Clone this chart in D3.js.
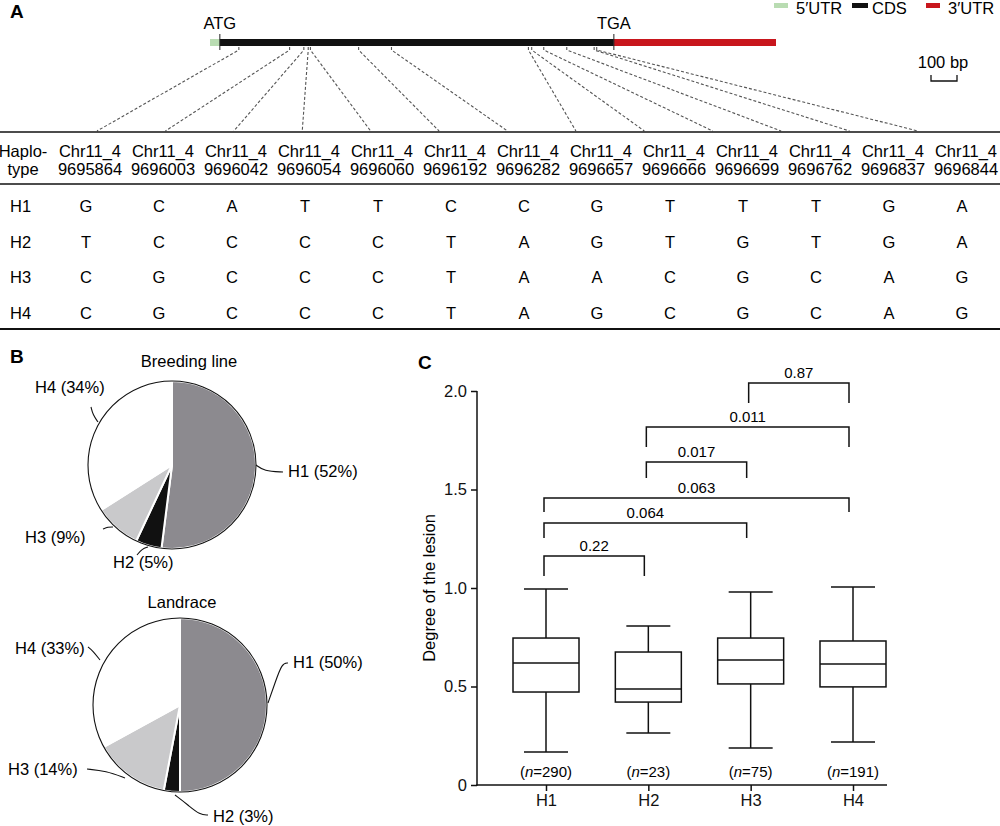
<!DOCTYPE html>
<html><head><meta charset="utf-8">
<script src="https://cdn.jsdelivr.net/npm/d3@7"></script>
<style>
body{margin:0;background:#fff}
svg{display:block;font-family:"Liberation Sans",Arial,Helvetica,sans-serif}
</style>
</head><body>
<svg id="fig" width="1000" height="826"></svg>
<script>
// ---------------- DATA ----------------
const snpIds = ["9695864","9696003","9696042","9696054","9696060","9696192","9696282","9696657","9696666","9696699","9696762","9696837","9696844"];
const snpPositions = [9695864,9696003,9696042,9696054,9696060,9696192,9696282,9696657,9696666,9696699,9696762,9696837,9696844];
const haplotypes = ["H1","H2","H3","H4"];
const allelesH1 = ["G","C","A","T","T","C","C","G","T","T","T","G","A"];
const allelesH2 = ["T","C","C","C","C","T","A","G","T","G","T","G","A"];
const allelesH3 = ["C","G","C","C","C","T","A","A","C","G","C","A","G"];
const allelesH4 = ["C","G","C","C","C","T","A","G","C","G","C","A","G"];
const geneFeatures = ["5\u2032UTR","CDS","3\u2032UTR"];
const featureStart = [9695785, 9695812, 9696891];
const featureEnd   = [9695812, 9696891, 9697335];
const breedingPct = [52, 5, 9, 34];
const landracePct = [50, 3, 14, 33];
const boxMin    = [0.167, 0.264, 0.188, 0.218];
const boxQ1     = [0.472, 0.421, 0.513, 0.498];
const boxMedian = [0.619, 0.487, 0.635, 0.614];
const boxQ3     = [0.746, 0.675, 0.746, 0.731];
const boxMax    = [0.995, 0.807, 0.980, 1.005];
const sampleN   = [290, 23, 75, 191];
const compFrom = ["H1","H1","H1","H2","H2","H3"];
const compTo   = ["H2","H3","H4","H3","H4","H4"];
const compP    = ["0.22","0.064","0.063","0.017","0.011","0.87"];
const yTicks = [0, 0.5, 1, 1.5, 2];

// ---------------- LAYOUT ----------------
const svg = d3.select("#fig");
const FS = 16.5;
const alleles = [allelesH1, allelesH2, allelesH3, allelesH4];

// Panel letters
[["A",10,18],["B",10,363],["C",418,369]].forEach(([t,x,y])=>{
  svg.append("text").attr("x",x).attr("y",y).attr("font-size",19).attr("font-weight","bold").text(t);
});

// ---- Panel A: gene model ----
const gx = d3.scaleLinear().domain([featureStart[0], featureEnd[2]]).range([210, 776]);
const featColors = ["#b9dcb2", "#111111", "#c8161d"];
geneFeatures.forEach((f,i)=>{
  svg.append("rect").attr("x", gx(featureStart[i])).attr("y", 39)
    .attr("width", gx(featureEnd[i]) - gx(featureStart[i])).attr("height", 7)
    .attr("fill", featColors[i]);
});
// ATG / TGA markers
[[featureStart[1],"ATG"],[featureStart[2],"TGA"]].forEach(([p,t])=>{
  const x = gx(p);
  svg.append("line").attr("x1",x).attr("x2",x).attr("y1",34).attr("y2",50).attr("stroke","#222").attr("stroke-width",1);
  svg.append("text").attr("x",x).attr("y",29).attr("text-anchor","middle").attr("font-size",FS).text(t);
});
// Legend
const legX = [774, 852, 926];
geneFeatures.forEach((f,i)=>{
  svg.append("rect").attr("x",legX[i]).attr("y",3).attr("width", i===1?16:14).attr("height",5).attr("fill",featColors[i]);
  svg.append("text").attr("x",legX[i]+(i===1?20:22)).attr("y",14).attr("font-size",16.5).text(f);
});
// scale bar
svg.append("path").attr("d","M931,75V81H957V75").attr("fill","none").attr("stroke","#111").attr("stroke-width",1.3);
svg.append("text").attr("x",943).attr("y",68).attr("text-anchor","middle").attr("font-size",FS).text("100 bp");

// connecting dashed lines
const endX = d3.scaleLinear().domain([0, snpPositions.length-1]).range([97, 918]);
snpPositions.forEach((p,i)=>{
  const xb = gx(p);
  svg.append("path").attr("d",`M${xb},47L${xb},50L${endX(i)},131`)
    .attr("fill","none").attr("stroke","#555").attr("stroke-width",1.1).attr("stroke-dasharray","3,2");
});

// table
const colX = d3.scaleLinear().domain([0, snpIds.length-1]).range([90, 966]);
[[132,1.5],[184,1.5],[329,2]].forEach(([y,w])=>{
  svg.append("line").attr("x1",0).attr("x2",1000).attr("y1",y).attr("y2",y).attr("stroke","#111").attr("stroke-width",w);
});
svg.append("text").attr("x",23).attr("y",157).attr("text-anchor","middle").attr("font-size",FS).text("Haplo-");
svg.append("text").attr("x",23).attr("y",175).attr("text-anchor","middle").attr("font-size",FS).text("type");
snpIds.forEach((id,i)=>{
  svg.append("text").attr("x",colX(i)).attr("y",157).attr("text-anchor","middle").attr("font-size",FS).text("Chr11_4");
  svg.append("text").attr("x",colX(i)).attr("y",175).attr("text-anchor","middle").attr("font-size",FS).text(id);
});
const rowY = d3.scalePoint().domain(haplotypes).range([212, 319]);
haplotypes.forEach((h,r)=>{
  svg.append("text").attr("x",10).attr("y",rowY(h)).attr("font-size",FS).text(h);
  alleles[r].forEach((a,i)=>{
    svg.append("text").attr("x",colX(i)-4).attr("y",rowY(h)).attr("text-anchor","middle").attr("font-size",FS).text(a);
  });
});

// ---- Panel B: pies ----
const pieColors = ["#8c8a8f","#111111","#c9c9cb","#ffffff"];
function drawPie(title, values, cx, cy, r, titleX, titleY, labels){
  const g = svg.append("g").attr("transform",`translate(${cx},${cy})`);
  const arcs = d3.pie().sort(null)(values);
  const arc = d3.arc().innerRadius(0).outerRadius(r);
  g.selectAll("path.s").data(arcs).enter().append("path").attr("class","s")
    .attr("d",arc).attr("fill",(d,i)=>pieColors[i]).attr("stroke","#fff").attr("stroke-width",2).attr("stroke-linejoin","round");
  g.append("circle").attr("r",r).attr("fill","none").attr("stroke","#111").attr("stroke-width",1.1);
  svg.append("text").attr("x",titleX).attr("y",titleY).attr("text-anchor","middle").attr("font-size",FS).text(title);
  labels.forEach((L,i)=>{
    g.append("path").attr("d", d3.line().curve(d3.curveBasis)(L.lead)).attr("fill","none").attr("stroke","#111").attr("stroke-width",1.1);
    g.append("text").attr("x",L.tx).attr("y",L.ty).attr("font-size",FS).text(`${haplotypes[i]} (${values[i]}%)`);
  });
}
drawPie("Breeding line", breedingPct, 172, 465, 84, 189, 367, [
  {lead:[[84,0],[92,6],[111,7]], tx:116, ty:12},
  {lead:[[-24,82],[-30,84],[-35,90]], tx:-59, ty:103},
  {lead:[[-69,64],[-64,62],[-59,62]], tx:-147, ty:78},
  {lead:[[-81,-58],[-79,-50],[-74,-43]], tx:-137, ty:-72}
]);
drawPie("Landrace", landracePct, 180, 705, 87, 182, 608, [
  {lead:[[88,-2],[95,-22],[102,-42],[108,-42]], tx:113, ty:-37},
  {lead:[[-5,90],[8,100],[20,110],[28,110]], tx:33, ty:117},
  {lead:[[-93,64],[-74,66],[-55,73]], tx:-172, ty:70},
  {lead:[[-92,-58],[-87,-54],[-80,-45]], tx:-165, ty:-51}
]);

// ---- Panel C: box plot ----
const y = d3.scaleLinear().domain([0, 2]).range([785, 391]);
const x = d3.scalePoint().domain(haplotypes).range([546, 853]);
const axisLeft = d3.axisLeft(y).tickValues(yTicks).tickSize(6).tickSizeOuter(0)
  .tickFormat(d => d === 0 ? "0" : d3.format(".1f")(d));
const gy = svg.append("g").attr("transform","translate(477,0)").call(axisLeft);
gy.select(".domain").remove();
gy.selectAll("text").attr("font-size",FS).attr("font-family","Liberation Sans, Arial, sans-serif").attr("fill","#111").attr("dx","-1");
gy.selectAll("line").attr("stroke","#111").attr("stroke-width",1.5);
svg.append("line").attr("x1",477).attr("x2",477).attr("y1",y(2)).attr("y2",y(0)+0.75).attr("stroke","#111").attr("stroke-width",1.5);

const axisBottom = d3.axisBottom(x).tickSize(6).tickSizeOuter(0);
const gxAx = svg.append("g").attr("transform","translate(0,785)").call(axisBottom);
gxAx.select(".domain").remove();
gxAx.selectAll("text").attr("font-size",FS).attr("font-family","Liberation Sans, Arial, sans-serif").attr("fill","#111");
gxAx.selectAll("line").attr("stroke","#111").attr("stroke-width",1.5);
svg.append("line").attr("x1",476.25).attr("x2",887).attr("y1",785).attr("y2",785).attr("stroke","#111").attr("stroke-width",1.5);

svg.append("text").attr("transform",`translate(435,${(y(0)+y(2))/2}) rotate(-90)`)
  .attr("text-anchor","middle").attr("font-size",FS).text("Degree of the lesion");

const boxW = 66, capW = 44;
haplotypes.forEach((h,i)=>{
  const cx = x(h);
  const g = svg.append("g").attr("stroke","#111").attr("stroke-width",1.5).attr("fill","none");
  g.append("line").attr("x1",cx).attr("x2",cx).attr("y1",y(boxMax[i])).attr("y2",y(boxQ3[i]));
  g.append("line").attr("x1",cx).attr("x2",cx).attr("y1",y(boxQ1[i])).attr("y2",y(boxMin[i]));
  g.append("line").attr("x1",cx-capW/2).attr("x2",cx+capW/2).attr("y1",y(boxMax[i])).attr("y2",y(boxMax[i]));
  g.append("line").attr("x1",cx-capW/2).attr("x2",cx+capW/2).attr("y1",y(boxMin[i])).attr("y2",y(boxMin[i]));
  g.append("rect").attr("x",cx-boxW/2).attr("y",y(boxQ3[i])).attr("width",boxW).attr("height",y(boxQ1[i])-y(boxQ3[i])).attr("fill","#fff");
  g.append("line").attr("x1",cx-boxW/2).attr("x2",cx+boxW/2).attr("y1",y(boxMedian[i])).attr("y2",y(boxMedian[i]));
  const t = svg.append("text").attr("x",cx).attr("y",777).attr("text-anchor","middle").attr("font-size",15);
  t.append("tspan").text("(");
  t.append("tspan").attr("font-style","italic").text("n");
  t.append("tspan").text(`=${sampleN[i]})`);
});

// significance brackets
const bracketLevel = [1.162, 1.330, 1.457, 1.640, 1.817, 2.041];
const bracketLeg = [20, 15, 14, 16, 20, 20];
compP.forEach((p,i)=>{
  const x1 = x(compFrom[i]) - 2, x2 = x(compTo[i]) - 4, yt = y(bracketLevel[i]);
  svg.append("path").attr("d",`M${x1},${yt+bracketLeg[i]}V${yt}H${x2}V${yt+bracketLeg[i]}`)
    .attr("fill","none").attr("stroke","#111").attr("stroke-width",1.5);
  svg.append("text").attr("x",(x1+x2)/2).attr("y",yt-5).attr("text-anchor","middle").attr("font-size",15).text(p);
});
</script>
</body></html>
